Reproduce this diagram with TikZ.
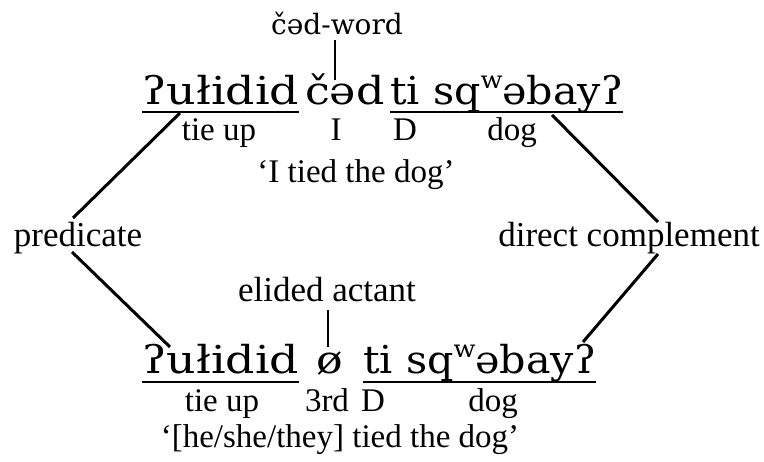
\documentclass[tikz,border=0pt]{standalone}
\usepackage{fontspec}
\setmainfont{Liberation Serif}
\newfontfamily\ipaf{DejaVu Serif}
\newcommand{\labw}{\raisebox{0.42em}{\fontsize{24}{24}\selectfont w}}
\newcommand{\bigtxt}[2][1.15]{\scalebox{#1}[1]{\ipaf\fontsize{38.5}{38.5}\selectfont #2}}
\begin{document}
\begin{tikzpicture}[x=1pt,y=-1pt,
  txt/.style={inner sep=0pt, anchor=base},
  big/.style={txt, anchor=base west},
  gl/.style={txt, font=\fontsize{33}{33}\selectfont},
  lab/.style={txt, font=\fontsize{35}{35}\selectfont},
  conn/.style={line width=3pt},
  ul/.style={line width=2pt}]
\useasboundingbox (0,0) rectangle (764,462);
% top sentence
\node[txt, font=\ipaf\fontsize{28}{28}\selectfont] (cw) at (337,35) {čəd-word};
\node[big] (t1) at (142,105) {\bigtxt[1.19]{ʔułidid}};
\node[big] (t2) at (305,105) {\bigtxt{čəd}};
\node[big] (t3) at (390,105) {\bigtxt[1.07]{ti sq\labw əbayʔ}};
\node[gl] (g1) at (219,141) {tie up};
\node[gl] (g2) at (336,141) {I};
\node[gl] (g3) at (405,141) {D};
\node[gl] (g4) at (512,141) {dog};
\node[gl] (q1) at (356,183) {‘I tied the dog’};
% side labels
\node[lab] (pred) at (78,247) {predicate};
\node[lab] (dc) at (629,247) {direct complement};
% bottom sentence
\node[lab] (ea) at (327,302) {elided actant};
\node[big] (b1) at (142,374) {\bigtxt[1.19]{ʔułidid}};
\node[txt] (b2) at (330,374) {\bigtxt{ø}};
\node[big] (b3) at (363,374) {\bigtxt[1.07]{ti sq\labw əbayʔ}};
\node[gl] (h1) at (222,412) {tie up};
\node[gl] (h2) at (327,412) {3rd};
\node[gl] (h3) at (373,412) {D};
\node[gl] (h4) at (493,412) {dog};
\node[gl] (q2) at (340,448) {‘[he/she/they] tied the dog’};
% underlines
\draw[ul] ([yshift=-7pt]t1.base west) -- ([yshift=-7pt]t1.base east);
\draw[ul] ([yshift=-7pt]t3.base west) -- ([yshift=-7pt]t3.base east);
\draw[ul] ([yshift=-8pt]b1.base west) -- ([yshift=-8pt]b1.base east);
\draw[ul] ([yshift=-8pt]b3.base west) -- ([yshift=-8pt]b3.base east);
% connector ends
\coordinate (cwA) at (335,40);
\coordinate (cwB) at (335,80);
\coordinate (eaA) at (328,310);
\coordinate (eaB) at (328,347);
\coordinate (pA) at (73,218);
\coordinate (pB) at (180,113);
\coordinate (pC) at (72,252);
\coordinate (pD) at (170,347);
\coordinate (dA) at (552,115);
\coordinate (dB) at (658,222);
\coordinate (dC) at (658,254);
\coordinate (dD) at (583,342);
\draw[line width=1.5pt] (cwA) -- (cwB);
\draw[line width=1.5pt] (eaA) -- (eaB);
\draw[conn] (pA) -- (pB);
\draw[conn] (pC) -- (pD);
\draw[conn] (dA) -- (dB);
\draw[conn] (dC) -- (dD);
\end{tikzpicture}
\end{document}
